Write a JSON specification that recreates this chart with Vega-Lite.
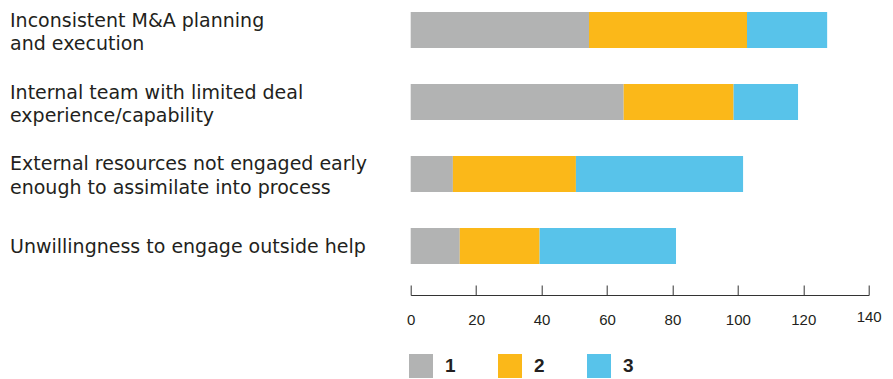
{
  "$schema": "https://vega.github.io/schema/vega-lite/v6.json",
  "autosize": "none",
  "width": 458,
  "height": 276,
  "padding": {"left": 410.7, "top": 0, "right": 24.3, "bottom": 103},
  "background": "white",
  "config": {"view": {"stroke": null}},
  "data": {
    "values": [
      {"category": "Inconsistent M&A planning|and execution", "series": "1", "value": 54.5},
      {"category": "Inconsistent M&A planning|and execution", "series": "2", "value": 48.3},
      {"category": "Inconsistent M&A planning|and execution", "series": "3", "value": 24.5},
      {"category": "Internal team with limited deal|experience/capability", "series": "1", "value": 65.1},
      {"category": "Internal team with limited deal|experience/capability", "series": "2", "value": 33.6},
      {"category": "Internal team with limited deal|experience/capability", "series": "3", "value": 19.7},
      {"category": "External resources not engaged early|enough to assimilate into process", "series": "1", "value": 12.9},
      {"category": "External resources not engaged early|enough to assimilate into process", "series": "2", "value": 37.6},
      {"category": "External resources not engaged early|enough to assimilate into process", "series": "3", "value": 51.1},
      {"category": "Unwillingness to engage outside help", "series": "1", "value": 15.0},
      {"category": "Unwillingness to engage outside help", "series": "2", "value": 24.4},
      {"category": "Unwillingness to engage outside help", "series": "3", "value": 41.7}
    ]
  },
  "mark": {"type": "bar", "strokeWidth": 0},
  "encoding": {
    "y": {
      "field": "category",
      "type": "nominal",
      "sort": [
        "Inconsistent M&A planning|and execution",
        "Internal team with limited deal|experience/capability",
        "External resources not engaged early|enough to assimilate into process",
        "Unwillingness to engage outside help"
      ],
      "scale": {"paddingInner": 0.5, "paddingOuter": 0.16667},
      "axis": {
        "title": null,
        "domain": false,
        "ticks": false,
        "labelAlign": "left",
        "labelBaseline": "middle",
        "labelPadding": 401.2,
        "labelOffset": {"condition": {"test": "indexof(datum.value, '|') >= 0", "value": -9.5}, "value": 1},
        "labelFont": "DejaVu Sans",
        "labelFontSize": 19,
        "labelColor": "#231f20",
        "labelLimit": 0,
        "labelLineHeight": 23.5,
        "labelExpr": "split(datum.label, '|')"
      }
    },
    "x": {
      "field": "value",
      "type": "quantitative",
      "stack": "zero",
      "scale": {"domain": [0, 140], "nice": false, "zero": true},
      "axis": {
        "title": null,
        "grid": false,
        "values": [0, 20, 40, 60, 80, 100, 120, 140],
        "offset": 19,
        "tickSize": -10,
        "tickColor": "#333333",
        "tickWidth": 1,
        "domainColor": "#333333",
        "domainWidth": 1,
        "labelFont": "Liberation Sans",
        "labelFontSize": 15,
        "labelColor": "#231f20",
        "labelPadding": {"condition": {"test": "datum.value === 140", "value": 24.5}, "value": 27},
        "labelBaseline": "top",
        "labelFlush": false,
        "labelOverlap": false
      }
    },
    "color": {
      "field": "series",
      "type": "nominal",
      "scale": {"domain": ["1", "2", "3"], "range": ["#b2b3b3", "#fbb819", "#58c3ea"]},
      "legend": {
        "title": null,
        "orient": "none",
        "direction": "horizontal",
        "legendX": -1.7,
        "legendY": 354,
        "padding": 0,
        "symbolType": "square",
        "symbolSize": 576,
        "symbolStrokeWidth": 0,
        "symbolOpacity": 1,
        "labelFont": "Liberation Sans",
        "labelFontSize": 19,
        "labelFontWeight": "bold",
        "labelColor": "#231f20",
        "labelOffset": 12,
        "columnPadding": 42
      }
    },
    "order": {"field": "series", "type": "ordinal"}
  }
}
